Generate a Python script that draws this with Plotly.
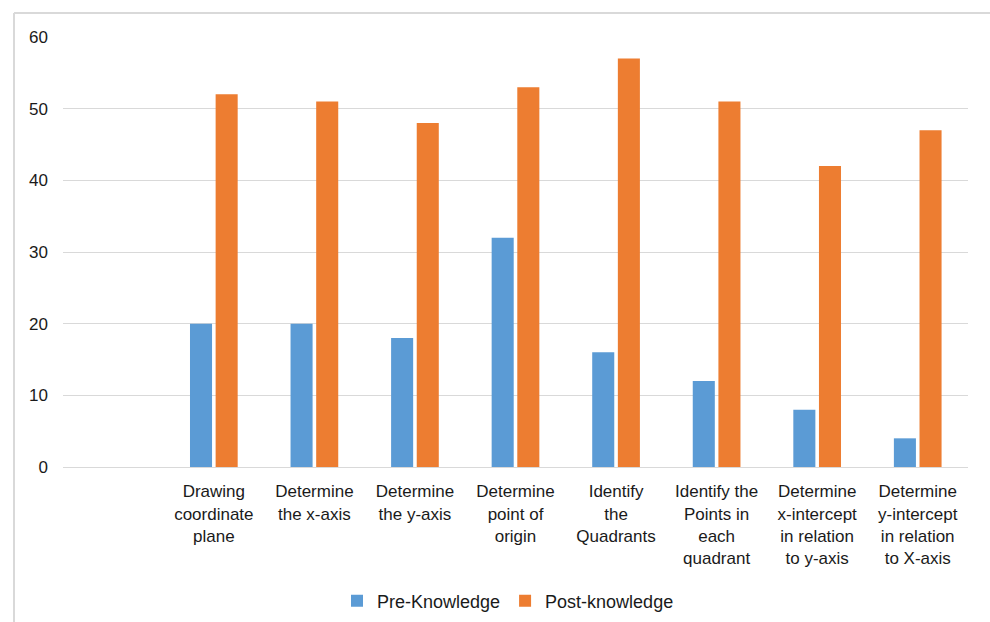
import plotly.graph_objects as go

categories = [
    "Drawing<br>coordinate<br>plane",
    "Determine<br>the x-axis",
    "Determine<br>the y-axis",
    "Determine<br>point of<br>origin",
    "Identify<br>the<br>Quadrants",
    "Identify the<br>Points in<br>each<br>quadrant",
    "Determine<br>x-intercept<br>in relation<br>to y-axis",
    "Determine<br>y-intercept<br>in relation<br>to X-axis",
]
pre_knowledge = [20, 20, 18, 32, 16, 12, 8, 4]
post_knowledge = [52, 51, 48, 53, 57, 51, 42, 47]
y_ticks = [0, 10, 20, 30, 40, 50, 60]

FONT = "Liberation Sans, Arial, sans-serif"

fig = go.Figure()
fig.add_trace(go.Bar(x=categories, y=pre_knowledge, name="Pre-Knowledge",
                     marker_color="#5B9BD5", marker_line_width=0))
fig.add_trace(go.Bar(x=categories, y=post_knowledge, name="Post-knowledge",
                     marker_color="#ED7D31", marker_line_width=0))

L, R, T, B = 63, 22, 37, 155
W, H = 990, 622
pw = W - L - R
ph = H - T - B

def px_x(x):
    return (x - L) / pw

def px_y(y):
    return (H - B - y) / ph

fig.update_layout(
    width=W, height=H,
    margin=dict(l=L, r=R, t=T, b=B, autoexpand=False),
    paper_bgcolor="white", plot_bgcolor="white",
    barmode="group", bargap=0.49, bargroupgap=0.14,
    font=dict(family=FONT, size=17, color="#1a1a1a"),
    showlegend=True,
    legend=dict(orientation="h", x=px_x(508), y=px_y(601), xanchor="center", yanchor="middle",
                font=dict(size=18), itemwidth=30, traceorder="normal"),
    xaxis=dict(type="category", range=[-1.5, 7.5], showgrid=False,
               showline=True, linecolor="#d9d9d9", linewidth=1,
               ticks="", tickangle=0, ticklabelstandoff=9,
               tickfont=dict(size=17), automargin=False),
    yaxis=dict(range=[0, 60], tickvals=y_ticks, showgrid=True, gridcolor="#d9d9d9",
               gridwidth=1, zeroline=False, showline=False, ticks="",
               ticklabelstandoff=14, tickfont=dict(size=17), automargin=False),
    shapes=[
        dict(type="line", xref="paper", yref="paper", x0=px_x(14), x1=px_x(14),
             y0=px_y(13), y1=px_y(640), line=dict(color="#d9d9d9", width=2)),
        dict(type="line", xref="paper", yref="paper", x0=px_x(14), x1=px_x(1000),
             y0=px_y(13), y1=px_y(13), line=dict(color="#d9d9d9", width=2)),
    ],
)

fig.write_html("out.html")
